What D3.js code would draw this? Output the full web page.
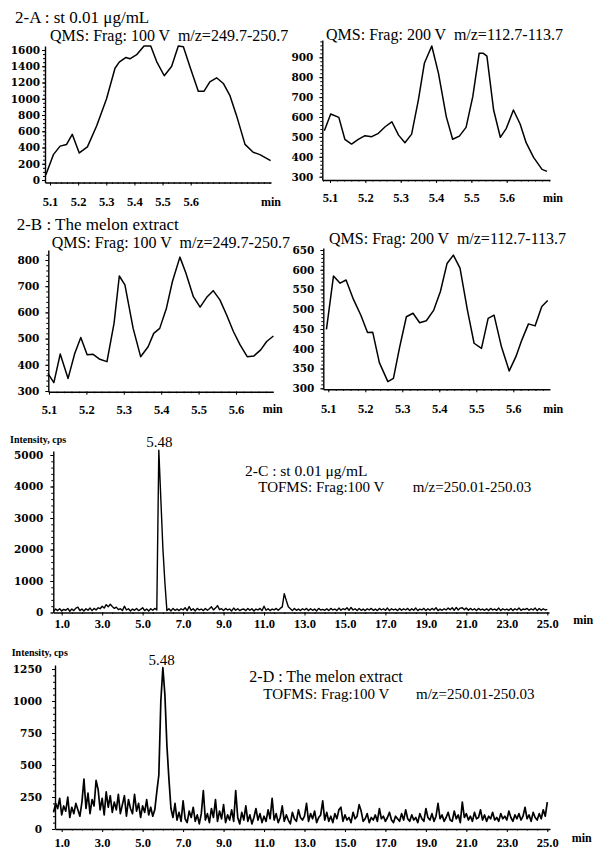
<!DOCTYPE html>
<html>
<head>
<meta charset="utf-8">
<script src="https://cdn.jsdelivr.net/npm/d3@7"></script>
<style>
  body { margin: 0; background: #fff; }
  svg { display: block; }
  text { fill: #000; }
</style>
</head>
<body>
<script>
// ---- data ----

// 2-A left : QMS Frag 100 V, m/z 249.7-250.7
var a1Time  = [5.085,5.112,5.136,5.159,5.179,5.204,5.233,5.266,5.301,5.331,5.346,5.370,5.384,5.408,5.434,5.458,5.479,5.506,5.532,5.556,5.574,5.597,5.627,5.647,5.668,5.692,5.716,5.739,5.763,5.793,5.822,5.846,5.884];
var a1Value = [62,312,417,438,562,333,408,667,1000,1375,1450,1508,1492,1542,1650,1650,1458,1283,1396,1650,1640,1396,1092,1092,1208,1258,1188,1042,792,438,342,312,238];

// 2-A right : QMS Frag 200 V, m/z 112.7-113.7
var a2Time  = [5.084,5.102,5.125,5.142,5.161,5.180,5.199,5.218,5.237,5.256,5.275,5.294,5.312,5.331,5.350,5.367,5.388,5.407,5.429,5.447,5.466,5.485,5.504,5.522,5.534,5.544,5.563,5.582,5.599,5.619,5.638,5.655,5.676,5.700,5.714];
var a2Value = [531,615,598,488,464,488,506,501,518,551,576,509,471,514,685,870,957,819,602,488,504,548,702,920,920,906,635,498,543,635,565,471,397,337,327];

// 2-B left : melon extract, QMS Frag 100 V
var b1Time  = [5.097,5.113,5.130,5.151,5.169,5.185,5.202,5.218,5.236,5.255,5.274,5.288,5.303,5.325,5.345,5.365,5.380,5.396,5.414,5.430,5.450,5.466,5.486,5.504,5.523,5.539,5.557,5.575,5.593,5.611,5.630,5.648,5.666,5.682,5.700];
var b1Value = [367,332,441,348,444,504,438,440,421,412,559,739,705,539,431,469,520,539,616,718,811,750,660,620,660,683,648,590,527,476,431,434,457,489,510];

// 2-B right : melon extract, QMS Frag 200 V
var b2Time  = [5.095,5.114,5.132,5.148,5.168,5.188,5.206,5.220,5.238,5.261,5.276,5.293,5.311,5.329,5.347,5.365,5.385,5.403,5.421,5.438,5.456,5.476,5.494,5.514,5.532,5.548,5.568,5.589,5.607,5.623,5.641,5.659,5.677,5.693];
var b2Value = [449,584,566,574,525,485,441,442,365,317,325,405,481,490,466,471,498,545,616,637,604,498,414,401,477,485,405,344,380,422,463,458,507,522];

// 2-C / 2-D : TOFMS traces, one reading every 0.1 min from 0.6 min
var tofStart = 0.6, tofStep = 0.1;
var cValue = [
  40,110,60,120,
  50,100,70,130,40,110,60,140,170,60,
  110,50,120,70,140,60,130,80,150,120,
  200,140,250,180,260,190,130,170,90,120,
  60,200,80,120,50,110,70,130,60,100,
  150,60,110,50,120,70,130,80,5150,3600,
  2050,950,60,120,50,130,70,110,60,120,
  80,150,60,190,70,120,50,130,80,110,
  60,130,70,120,180,80,140,220,90,120,
  60,130,80,110,50,140,70,120,60,100,
  110,60,130,70,120,50,110,80,130,60,
  200,70,120,60,110,80,130,70,130,180,
  600,380,180,120,60,130,70,110,60,120,
  80,130,60,120,70,110,50,130,80,100,
  70,120,60,130,80,110,60,140,70,120,
  90,150,70,160,80,120,60,130,70,110,
  60,120,80,130,70,110,60,130,80,120,
  70,140,60,120,80,110,60,130,70,120,
  80,130,60,120,70,140,60,110,80,130,
  60,120,70,130,80,150,60,110,70,120,
  80,140,90,150,70,160,80,140,150,90,
  140,70,130,80,120,60,130,80,110,70,
  120,60,130,80,110,70,140,60,120,80,
  110,70,130,60,120,80,140,70,110,90,
  130,70,120,80,140,60,130,70,120,80,
  100];
var dValue = [
  130,200,160,240,
  110,180,140,250,90,170,120,200,150,100,
  210,390,160,280,120,230,180,380,310,150,
  240,110,290,170,260,130,210,150,270,120,
  190,260,100,230,160,120,270,140,200,90,
  180,130,230,110,170,100,150,290,420,1000,
  1260,1050,650,390,160,90,200,70,130,60,
  220,80,50,140,90,170,60,110,40,120,
  300,70,120,50,160,90,230,60,140,80,
  190,50,110,70,150,60,300,90,40,130,
  70,180,60,110,40,90,160,70,120,50,
  100,60,150,80,240,70,120,50,90,180,
  60,110,70,40,130,80,60,150,90,70,
  100,200,60,120,80,140,50,90,110,220,
  70,130,60,100,50,120,80,150,170,60,
  110,70,90,50,130,80,100,190,140,60,
  80,120,50,90,70,110,60,160,80,100,
  60,90,130,70,50,100,80,60,120,70,
  150,80,60,110,70,90,50,120,80,60,
  160,90,70,120,60,100,200,80,110,60,
  90,130,70,60,140,80,110,50,210,90,
  120,70,100,60,130,80,90,150,70,110,
  60,100,80,130,70,90,60,120,80,100,
  70,140,90,60,110,80,120,70,100,170,
  80,110,60,130,90,70,120,80,150,100,
  210];

// tick labels
var qmsXTicks = [5.1, 5.2, 5.3, 5.4, 5.5, 5.6];
var tofXTicks = [1, 3, 5, 7, 9, 11, 13, 15, 17, 19, 21, 23, 25];
var a1YTicks = [0, 200, 400, 600, 800, 1000, 1200, 1400, 1600];
var a2YTicks = [300, 400, 500, 600, 700, 800, 900];
var b1YTicks = [300, 400, 500, 600, 700, 800];
var b2YTicks = [300, 350, 400, 450, 500, 550, 600, 650];
var cYTicks = [0, 1000, 2000, 3000, 4000, 5000];
var dYTicks = [0, 250, 500, 750, 1000, 1250];

function tofTimes(vals) {
  return vals.map(function(v, i) { return tofStart + tofStep * i; });
}

// ---- layout ----
var W = 596, H = 849;
var svg = d3.select("body").append("svg").attr("width", W).attr("height", H);

var panels = [
  { t: a1Time, v: a1Value, xd: [5.1, 5.6], xr: [50, 190.7], yd: [0, 1600], yr: [180, 50],
    ax: [45, 271], ay: [182.5, 46], yt: a1YTicks, xt: qmsXTicks, ypad: 2, xpad: 12,
    min: [271, 206], lw: 1.5, minorY: 50, minorX: 0.02 },
  { t: a2Time, v: a2Value, xd: [5.1, 5.6], xr: [330, 506.7], yd: [300, 900], yr: [176.7, 57.3],
    ax: [322.3, 550], ay: [180, 40], yt: a2YTicks, xt: qmsXTicks, ypad: 6, xpad: 10.5,
    min: [553, 202], lw: 1.5, minorY: 20, minorX: 0.02 },
  { t: b1Time, v: b1Value, xd: [5.1, 5.6], xr: [49, 236], yd: [300, 800], yr: [391, 260],
    ax: [48.3, 273.3], ay: [391.7, 250], yt: b1YTicks, xt: qmsXTicks, ypad: 6, xpad: 10,
    min: [272.7, 413], lw: 1.5, minorY: 20, minorX: 0.02 },
  { t: b2Time, v: b2Value, xd: [5.1, 5.6], xr: [328.3, 513.3], yd: [300, 650], yr: [388.3, 250],
    ax: [323.3, 550], ay: [389.3, 248], yt: b2YTicks, xt: qmsXTicks, ypad: 6, xpad: 11.5,
    min: [553.3, 412.5], lw: 1.5, minorY: 10, minorX: 0.02 },
  { t: tofTimes(cValue), v: cValue, xd: [1, 25], xr: [61.7, 547.3], yd: [0, 5000], yr: [612.5, 455],
    ax: [53.3, 549], ay: [612.5, 451], yt: cYTicks, xt: tofXTicks, ypad: 7, xpad: 4,
    min: [583.3, 624], lw: 1.4, minorY: 200, minorX: 0.5 },
  { t: tofTimes(dValue), v: dValue, xd: [1, 25], xr: [61.7, 547.3], yd: [0, 1250], yr: [829, 669],
    ax: [55, 550], ay: [829, 665], yt: dYTicks, xt: tofXTicks, ypad: 10, xpad: 6.5,
    min: [581.7, 842], lw: 1.7, minorY: 50, minorX: 0.5 }
];

panels.forEach(function(p) {
  var x = d3.scaleLinear().domain(p.xd).range(p.xr);
  var y = d3.scaleLinear().domain(p.yd).range(p.yr);
  // axis scales stretched to the full length of the drawn axis lines
  var xa = x.copy().domain([x.invert(p.ax[0]), x.invert(p.ax[1])]).range(p.ax);
  var ya = y.copy().domain([y.invert(p.ay[0]), y.invert(p.ay[1])]).range(p.ay);

  var g = svg.append("g");

  // minor ticks
  var ymin = d3.range(Math.ceil(ya.domain()[0] / p.minorY) * p.minorY, ya.domain()[1], p.minorY);
  g.append("g").attr("transform", "translate(" + p.ax[0] + ",0)")
    .call(d3.axisLeft(ya).tickValues(ymin).tickSize(2).tickSizeOuter(0).tickFormat(""))
    .call(function(s) { s.select(".domain").remove(); });
  var xmin = d3.range(Math.ceil(xa.domain()[0] / p.minorX) * p.minorX, xa.domain()[1], p.minorX);
  g.append("g").attr("transform", "translate(0," + p.ay[0] + ")")
    .call(d3.axisBottom(xa).tickValues(xmin).tickSize(1.5).tickSizeOuter(0).tickFormat(""))
    .call(function(s) { s.select(".domain").remove(); });

  // y axis
  g.append("g").attr("class", "yaxis")
    .attr("transform", "translate(" + p.ax[0] + ",0)")
    .call(d3.axisLeft(ya).tickValues(p.yt).tickFormat(d3.format("d"))
      .tickSize(3).tickSizeOuter(0).tickPadding(p.ypad))
    .call(function(s) {
      s.selectAll("text").style("font-family", "'DejaVu Serif', serif")
        .style("font-weight", "bold").style("font-size", "10.5px");
    });

  // x axis
  g.append("g").attr("class", "xaxis")
    .attr("transform", "translate(0," + p.ay[0] + ")")
    .call(d3.axisBottom(xa).tickValues(p.xt).tickFormat(d3.format(".1f"))
      .tickSize(3).tickSizeOuter(0).tickPadding(p.xpad))
    .call(function(s) {
      s.selectAll("text").style("font-family", "'Liberation Serif', serif")
        .style("font-weight", "bold").style("font-size", "12.5px");
    });

  g.selectAll(".domain").attr("stroke", "#000").attr("stroke-width", 1.4);
  g.selectAll(".tick line").attr("stroke", "#000").attr("stroke-width", 1);

  g.append("text").attr("x", p.min[0]).attr("y", p.min[1])
    .attr("text-anchor", "middle")
    .style("font-family", "'Liberation Serif', serif").style("font-weight", "bold")
    .style("font-size", "12px").text("min");

  var line = d3.line()
    .x(function(d, i) { return x(p.t[i]); })
    .y(function(d) { return y(d); });
  g.append("path").datum(p.v)
    .attr("d", line)
    .attr("fill", "none")
    .attr("stroke", "#000")
    .attr("stroke-width", p.lw)
    .attr("stroke-linejoin", "round");
});

// ---- text ----
function label(x, y, txt, size, weight, anchor) {
  svg.append("text").attr("x", x).attr("y", y)
    .attr("text-anchor", anchor || "start")
    .style("font-family", "'Liberation Serif', serif")
    .style("font-size", size + "px")
    .style("font-weight", weight || "normal")
    .style("white-space", "pre")
    .text(txt);
}

label(15, 23, "2-A : st 0.01 \u03bcg/mL", 17);
label(50, 41, "QMS: Frag: 100 V  m/z=249.7-250.7", 16);
label(326, 40, "QMS: Frag: 200 V  m/z=112.7-113.7", 16);

label(16.7, 230, "2-B : The melon extract", 17);
label(51.7, 247.5, "QMS: Frag: 100 V  m/z=249.7-250.7", 16);
label(329, 244, "QMS: Frag: 200 V  m/z=112.7-113.7", 16);

label(10, 442.5, "Intensity, cps", 10, "bold");
label(159.3, 447, "5.48", 15, "normal", "middle");
label(245, 475.5, "2-C : st 0.01 \u03bcg/mL", 15.5);
label(258.3, 492, "TOFMS: Frag:100 V", 15);
label(412.7, 492, "m/z=250.01-250.03", 15);

label(11.7, 656, "Intensity, cps", 10, "bold");
label(161.7, 664.5, "5.48", 15, "normal", "middle");
label(249.3, 681.5, "2-D : The melon extract", 16);
label(263.3, 698.5, "TOFMS: Frag:100 V", 15);
label(416, 698.5, "m/z=250.01-250.03", 15);
</script>
</body>
</html>
